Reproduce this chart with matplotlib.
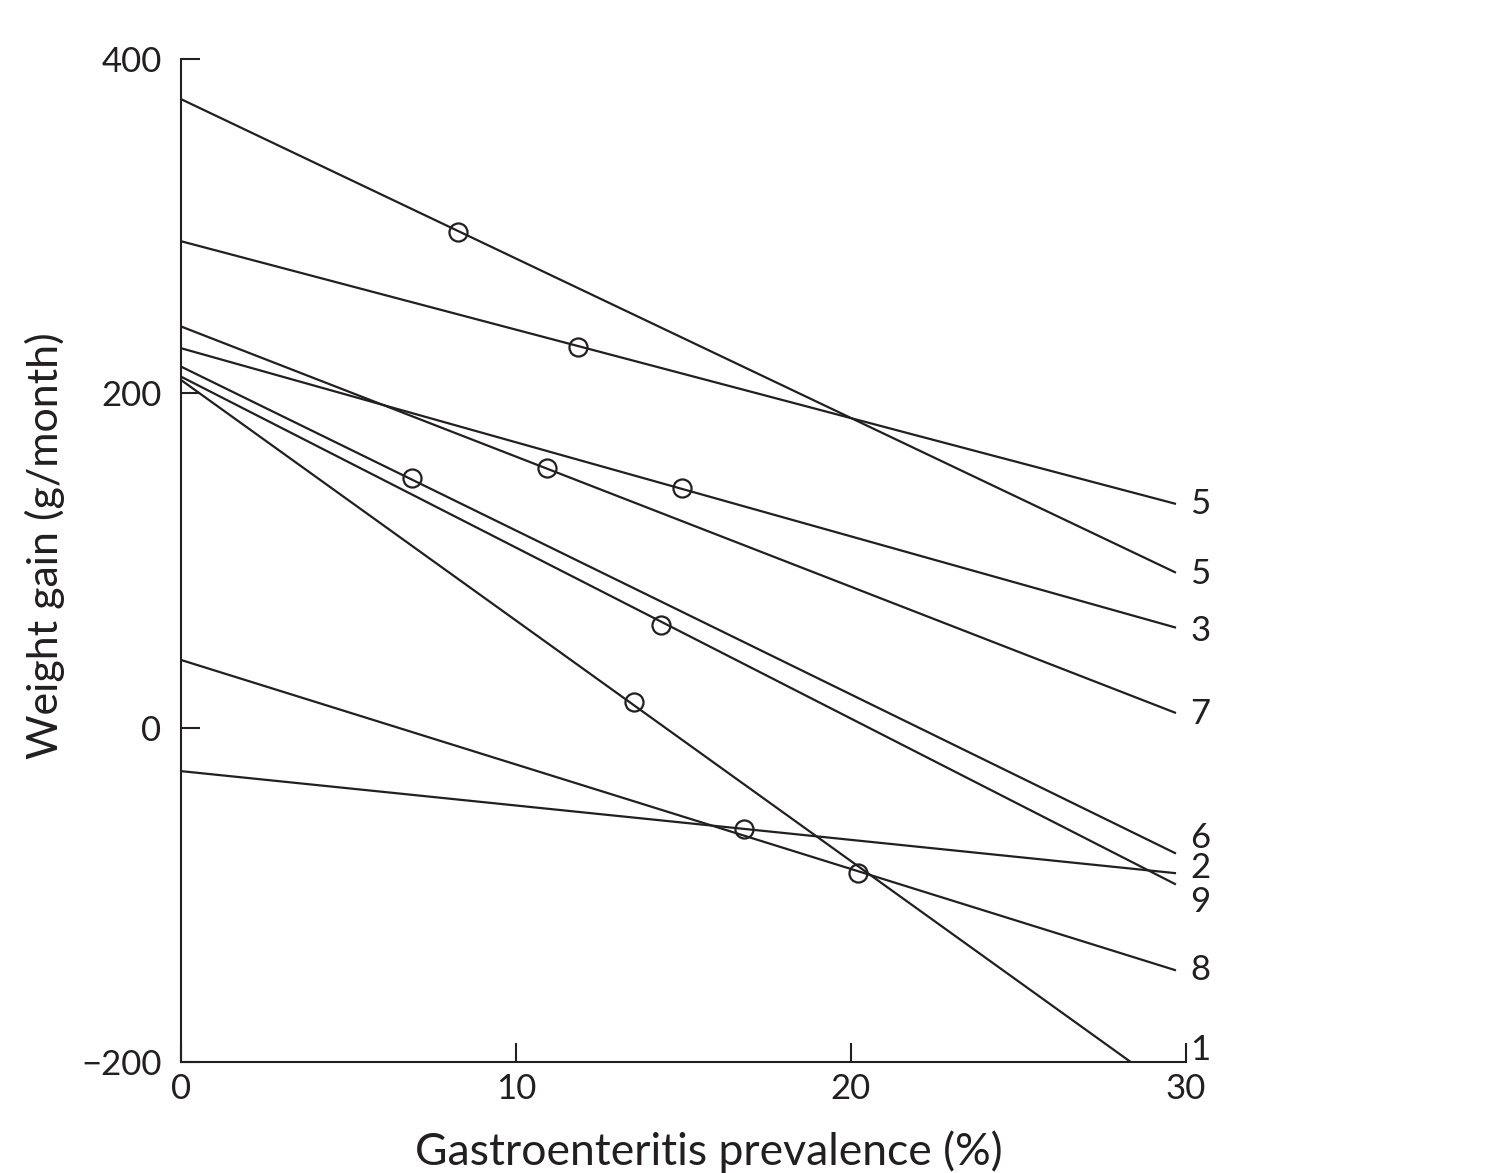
import numpy as np
import matplotlib.pyplot as plt

# intercept (x=0) and end value (x=x_end) of each regression line
y_start = [376, 291, 240, 227, 216, 210, 208, 40.5, -26]
y_end = [93, 134, 9, 60, -75, -93.5, -219, -145, -87]
x_end = 29.67

# one open circle per line (mean prevalence, mean weight gain)
circ_x = [8.27, 11.85, 10.93, 14.96, 6.9, 14.33, 13.52, 20.2, 16.8]
circ_y = [296.5, 227.7, 155.4, 143.4, 149.4, 61.4, 15.4, -86.9, -60.6]

# numbers written at the right edge, top to bottom
labels = ['5', '5', '3', '7', '6', '2', '9', '8', '1']
label_y = [133.5, 92, 58, 8, -66, -84, -104, -145, -193]

plt.rcParams['font.family'] = ['Lato', 'DejaVu Sans']

fig = plt.figure(figsize=(14.88, 11.73), dpi=100)
ax = fig.add_axes([181 / 1488, 1 - 1062 / 1173, (1186 - 181) / 1488, (1062 - 59) / 1173])

for y0, y1 in zip(y_start, y_end):
    ax.plot([0, x_end], [y0, y1], color='#231f20', lw=1.6)

ax.plot(circ_x, circ_y, 'o', ms=13, mfc='none', mec='#231f20', mew=1.6, zorder=3)

for lab, ly in zip(labels, label_y):
    ax.text(30.12, ly, lab, ha='left', va='center', fontsize=25, color='#231f20',
            clip_on=False)

ax.set_xlim(0, 30)
ax.set_ylim(-200, 400)
ax.set_xticks([0, 10, 20, 30])
ax.set_yticks([-200, 0, 200, 400])
ax.set_yticklabels(['\u2212200', '0', '200', '400'])
ax.tick_params(direction='in', length=14, width=1.5, color='#231f20',
               labelsize=25, labelcolor='#231f20')
ax.tick_params(axis='y', pad=14)
ax.tick_params(axis='x', pad=8)
for s in ['top', 'right']:
    ax.spines[s].set_visible(False)
for s in ['left', 'bottom']:
    ax.spines[s].set_linewidth(1.5)
    ax.spines[s].set_color('#231f20')

ax.set_xlabel('Gastroenteritis prevalence (%)', fontsize=32, color='#231f20')
ax.set_ylabel('Weight gain (g/month)', fontsize=31, color='#231f20')
ax.xaxis.set_label_coords(0.525, -0.068)
ax.yaxis.set_label_coords(-0.115, 0.515)

fig.savefig('out.png', dpi=100)
